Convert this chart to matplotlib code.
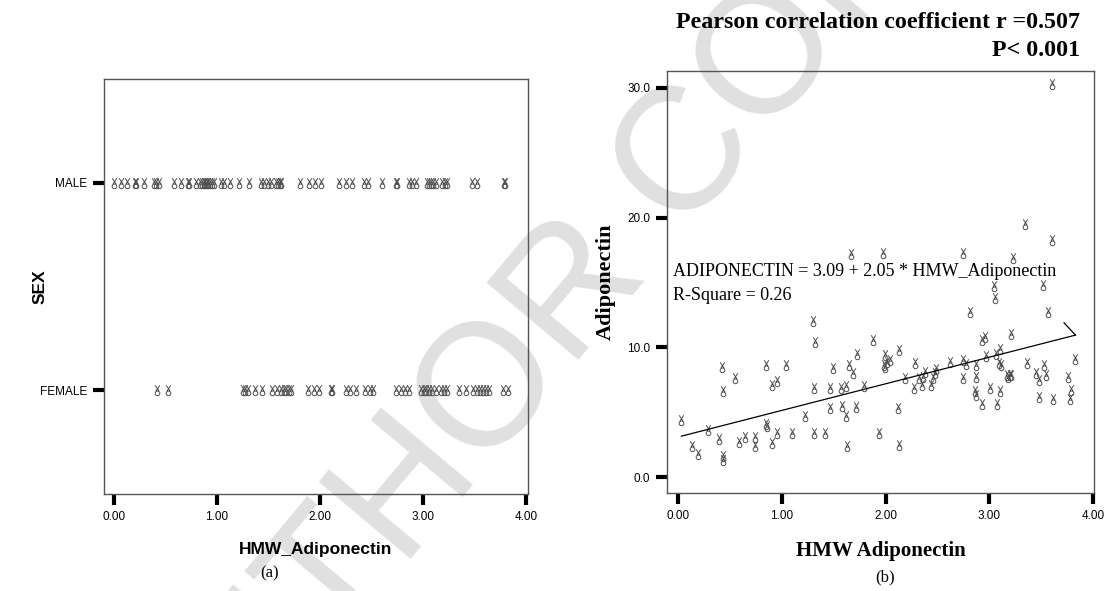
import numpy as np
import matplotlib.pyplot as plt
from matplotlib.path import Path

# ---- data -------------------------------------------------------------
# panel (a): HMW adiponectin values by sex
male_hmw = [0.00, 0.07, 0.13, 0.20, 0.21, 0.29, 0.39, 0.41, 0.44, 0.58, 0.65,
            0.72, 0.73, 0.80, 0.83, 0.85, 0.87, 0.88, 0.90, 0.91, 0.93, 0.95,
            0.97, 1.04, 1.07, 1.13, 1.21, 1.31, 1.43, 1.46, 1.49, 1.52, 1.57,
            1.59, 1.61, 1.62, 1.80, 1.89, 1.95, 2.01, 2.18, 2.25, 2.31, 2.43,
            2.46, 2.60, 2.74, 2.75, 2.86, 2.89, 2.93, 3.04, 3.06, 3.08, 3.10,
            3.12, 3.18, 3.21, 3.23, 3.47, 3.52, 3.78, 3.79]
female_hmw = [0.42, 0.52, 1.25, 1.27, 1.30, 1.37, 1.44, 1.53, 1.58, 1.62,
              1.65, 1.67, 1.70, 1.72, 1.88, 1.94, 1.99, 2.11, 2.12, 2.25,
              2.29, 2.35, 2.44, 2.48, 2.51, 2.74, 2.78, 2.82, 2.86, 2.98,
              3.01, 3.03, 3.06, 3.09, 3.12, 3.17, 3.20, 3.23, 3.35, 3.42,
              3.48, 3.52, 3.55, 3.58, 3.61, 3.64, 3.77, 3.82]
sex_labels = ['FEMALE', 'MALE']

# panel (b): HMW adiponectin vs total adiponectin
hmw = [0.03, 0.13, 0.19, 0.29, 0.39, 0.42, 0.43, 0.43, 0.43, 0.55, 0.59,
       0.64, 0.74, 0.74, 0.85, 0.85, 0.86, 0.90, 0.95, 0.95, 0.90, 1.04,
       1.10, 1.22, 1.30, 1.32, 1.31, 1.31, 1.41, 1.46, 1.49, 1.46, 1.57,
       1.58, 1.62, 1.62, 1.65, 1.68, 1.71, 1.72, 1.63, 1.79, 1.88, 1.94,
       1.98, 1.99, 2.01, 2.04, 1.99, 2.13, 2.12, 2.13, 2.19, 2.27, 2.28,
       2.32, 2.35, 2.36, 2.38, 2.44, 2.46, 2.48, 2.49, 2.62, 2.75, 2.75,
       2.77, 2.81, 2.87, 2.87, 2.86, 2.87, 2.93, 2.93, 2.96, 2.97, 3.01,
       3.04, 3.05, 3.06, 3.07, 3.09, 3.10, 3.10, 3.11, 3.17, 3.18, 3.20,
       3.21, 3.21, 3.36, 3.45, 3.48, 3.52, 3.53, 3.55, 3.57, 3.48, 3.61,
       3.76, 3.79, 3.78, 3.83, 3.60, 3.34, 3.60, 1.67, 1.97, 2.75, 3.23]
adiponectin = [4.4, 2.4, 1.8, 3.6, 2.9, 8.5, 6.6, 1.3, 1.6, 7.6, 2.7,
               3.1, 3.1, 2.4, 8.6, 4.1, 3.9, 7.1, 7.4, 3.4, 2.6, 8.6,
               3.4, 4.7, 12.0, 10.4, 6.9, 3.4, 3.4, 6.9, 8.4, 5.3, 6.9,
               5.5, 7.0, 4.7, 8.6, 8.0, 5.4, 9.5, 2.4, 7.0, 10.6, 3.4,
               8.6, 9.4, 8.9, 9.0, 8.5, 9.8, 5.3, 2.5, 7.6, 6.9, 8.8,
               7.6, 7.1, 7.7, 8.1, 7.1, 7.6, 8.0, 8.3, 8.9, 9.0, 7.6,
               8.7, 12.7, 8.6, 7.7, 6.6, 6.3, 5.6, 10.6, 10.8, 9.3, 6.9,
               14.7, 13.8, 9.5, 5.6, 8.8, 6.6, 9.9, 8.6, 7.9, 7.7, 7.9,
               7.9, 11.0, 8.8, 8.0, 7.5, 14.8, 8.6, 7.9, 12.7, 6.2, 6.0,
               7.7, 6.7, 6.0, 9.1, 30.3, 19.5, 18.3, 17.2, 17.3, 17.3, 16.9]
intercept = 3.09
slope = 2.05
r_square = 0.26

x_ticks = [0, 1, 2, 3, 4]
x_tick_labels = ['0.00', '1.00', '2.00', '3.00', '4.00']
y_ticks = [0, 10, 20, 30]
y_tick_labels = ['0.0', '10.0', '20.0', '30.0']

# SPSS style point symbol: small circle with a cross on top
circ = Path.unit_circle()
circ = Path(circ.vertices * 0.45 + [0, -0.55], circ.codes)
cross = Path([(-0.45, 1.0), (0.3, -0.1), (0.45, 1.0), (-0.3, -0.1)],
             [Path.MOVETO, Path.LINETO, Path.MOVETO, Path.LINETO])
sym = Path.make_compound_path(circ, cross)

sans = ['Liberation Sans', 'DejaVu Sans']
serif = ['Liberation Serif', 'DejaVu Serif']

fig = plt.figure(figsize=(11.08, 5.91), dpi=100)

# watermark, kept behind everything else
fig.text(0.50, 0.46, 'AUTHOR COPY', fontsize=125, family=sans,
         color='#e0e0e0', rotation=50, ha='center', va='center', zorder=-5)

def style_axes(ax):
    ax.set_facecolor('none')
    for s in ax.spines.values():
        s.set_color('#555555')
        s.set_linewidth(1.0)
    ax.tick_params(direction='out', length=8, width=3, color='black',
                   labelsize=8.5, pad=4)
    for lab in ax.get_xticklabels() + ax.get_yticklabels():
        lab.set_family(sans)

# ---- (a) --------------------------------------------------------------
ax1 = fig.add_axes([104 / 1108, 1 - 494 / 591, 424 / 1108, 415 / 591])
ax1.plot(female_hmw, np.zeros(len(female_hmw)), ls='none', marker=sym,
         ms=7.5, mfc='none', mec='#4d4d4d', mew=0.7)
ax1.plot(male_hmw, np.ones(len(male_hmw)), ls='none', marker=sym,
         ms=7.5, mfc='none', mec='#4d4d4d', mew=0.7)
ax1.set_xlim(-0.097, 4.017)
ax1.set_ylim(-0.5, 1.5)
ax1.set_xticks(x_ticks)
ax1.set_xticklabels(x_tick_labels)
ax1.set_yticks([0, 1])
ax1.set_yticklabels(sex_labels)
style_axes(ax1)
ax1.set_xlabel('HMW_Adiponectin', family=sans, weight='bold', fontsize=12.5,
               labelpad=14)
ax1.set_ylabel('SEX', family=sans, weight='bold', fontsize=12.5)
ax1.yaxis.set_label_coords(-0.134, 0.5)
fig.text(270 / 1108, 1 - 573 / 591, '(a)', family=serif, fontsize=12,
         ha='center', va='center')

# ---- (b) --------------------------------------------------------------
ax2 = fig.add_axes([667 / 1108, 1 - 493 / 591, 427 / 1108, 422 / 591])
ax2.plot(hmw, adiponectin, ls='none', marker=sym, ms=7.5, mfc='none',
         mec='#4d4d4d', mew=0.7)
xfit = np.array([min(hmw), max(hmw)])
yfit = intercept + slope * xfit
ax2.plot(xfit, yfit, color='black', lw=0.9)
# short leader line at the end of the fit
ax2.plot([xfit[1], xfit[1] - 0.11], [yfit[1], yfit[1] + 0.95],
         color='black', lw=0.9)
ax2.set_xlim(-0.109, 4.009)
ax2.set_ylim(-1.23, 31.3)
ax2.set_xticks(x_ticks)
ax2.set_xticklabels(x_tick_labels)
ax2.set_yticks(y_ticks)
ax2.set_yticklabels(y_tick_labels)
style_axes(ax2)
ax2.set_xlabel('HMW Adiponectin', family=serif, weight='bold', fontsize=15,
               labelpad=14)
ax2.set_ylabel('Adiponectin', family=serif, weight='bold', fontsize=16,
               labelpad=8)
ax2.text(0.013, 0.524, 'ADIPONECTIN = %.2f + %.2f * HMW_Adiponectin'
         % (intercept, slope), transform=ax2.transAxes, family=serif,
         fontsize=13, va='center')
ax2.text(0.013, 0.467, 'R-Square = %.2f' % r_square,
         transform=ax2.transAxes, family=serif, fontsize=13, va='center')
fig.text(1080 / 1108, 1 - 22 / 591, 'Pearson correlation coefficient r =0.507',
         family=serif, weight='bold', fontsize=17.3, ha='right', va='center')
fig.text(1080 / 1108, 1 - 50 / 591, 'P< 0.001', family=serif, weight='bold',
         fontsize=17.3, ha='right', va='center')
fig.text(885 / 1108, 1 - 577 / 591, '(b)', family=serif, fontsize=12,
         ha='center', va='center')

fig.savefig('out.png', dpi=100)
